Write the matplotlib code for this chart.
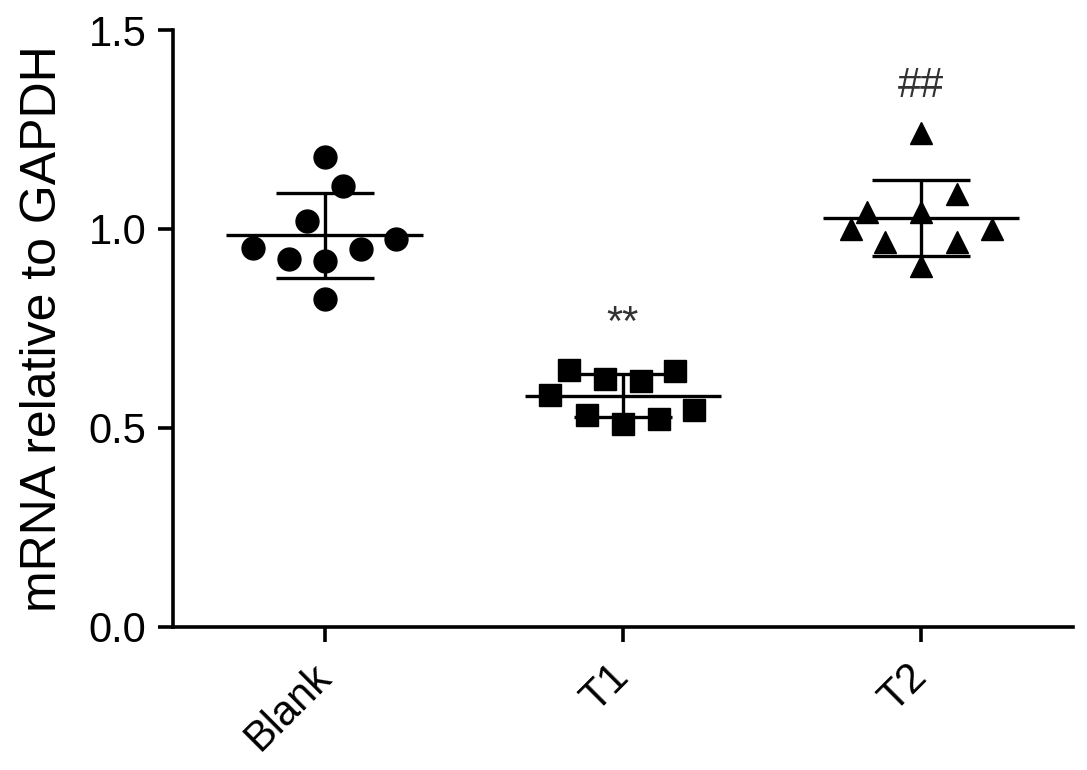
import matplotlib
matplotlib.use("Agg")
import matplotlib.pyplot as plt
import numpy as np

plt.rcParams['font.family'] = ['Liberation Sans', 'DejaVu Sans']

groups = ["Blank", "T1", "T2"]

blank_vals = [1.180, 1.109, 1.021, 0.952, 0.925, 0.919, 0.950, 0.975, 0.824]
t1_vals = [0.646, 0.582, 0.624, 0.619, 0.642, 0.533, 0.509, 0.523, 0.544]
t2_vals = [1.242, 1.088, 1.042, 1.000, 1.042, 1.000, 0.966, 0.966, 0.908]

# horizontal scatter offsets of each point
blank_dx = [0.0, 0.06, -0.06, -0.24, -0.12, 0.0, 0.12, 0.24, 0.0]
t1_dx = [-0.18, -0.245, -0.06, 0.06, 0.175, -0.12, 0.0, 0.12, 0.24]
t2_dx = [0.0, 0.12, -0.18, -0.235, 0.0, 0.24, -0.12, 0.12, 0.0]

sig_labels = ["", "**", "##"]
sig_y = [None, 0.76, 1.36]

values = [blank_vals, t1_vals, t2_vals]
offsets = [blank_dx, t1_dx, t2_dx]
markers = ["o", "s", "^"]

fig = plt.figure(figsize=(10.87, 7.70), dpi=100)
ax = fig.add_axes([0.159, 0.186, 0.828, 0.775])

lw = 2.4
for i, (vals, dx, mk) in enumerate(zip(values, offsets, markers)):
	vals = np.array(vals)
	xs = i + np.array(dx)
	ax.plot(xs, vals, linestyle="none", marker=mk, markersize=16.5,
		color="black", zorder=3)
	m = vals.mean()
	sd = vals.std(ddof=1)
	ax.hlines(m, i - 0.33, i + 0.33, color="black", lw=lw, zorder=4)
	ax.hlines([m - sd, m + sd], i - 0.165, i + 0.165, color="black", lw=lw, zorder=4)
	ax.vlines(i, m - sd, m + sd, color="black", lw=lw, zorder=4)
	if sig_labels[i]:
		ax.text(i, sig_y[i], sig_labels[i], ha="center", va="center",
			fontsize=30, color="#333333")

ax.set_xlim(-0.51, 2.51)
ax.set_ylim(0, 1.5)
ax.set_yticks([0.0, 0.5, 1.0, 1.5])
ax.set_yticklabels(["%.1f" % t for t in [0.0, 0.5, 1.0, 1.5]])
ax.set_xticks(range(len(groups)))
ax.set_xticklabels(groups, rotation=45, ha="right", va="center",
	rotation_mode="anchor")

for s in ["top", "right"]:
	ax.spines[s].set_visible(False)
for s in ["left", "bottom"]:
	ax.spines[s].set_linewidth(2.6)
ax.tick_params(axis="both", width=2.6, length=11, labelsize=30, pad=8)
ax.tick_params(axis="x", pad=21)
ax.set_ylabel("mRNA relative to GAPDH", fontsize=36, labelpad=16)

fig.savefig("out.png", dpi=100)
